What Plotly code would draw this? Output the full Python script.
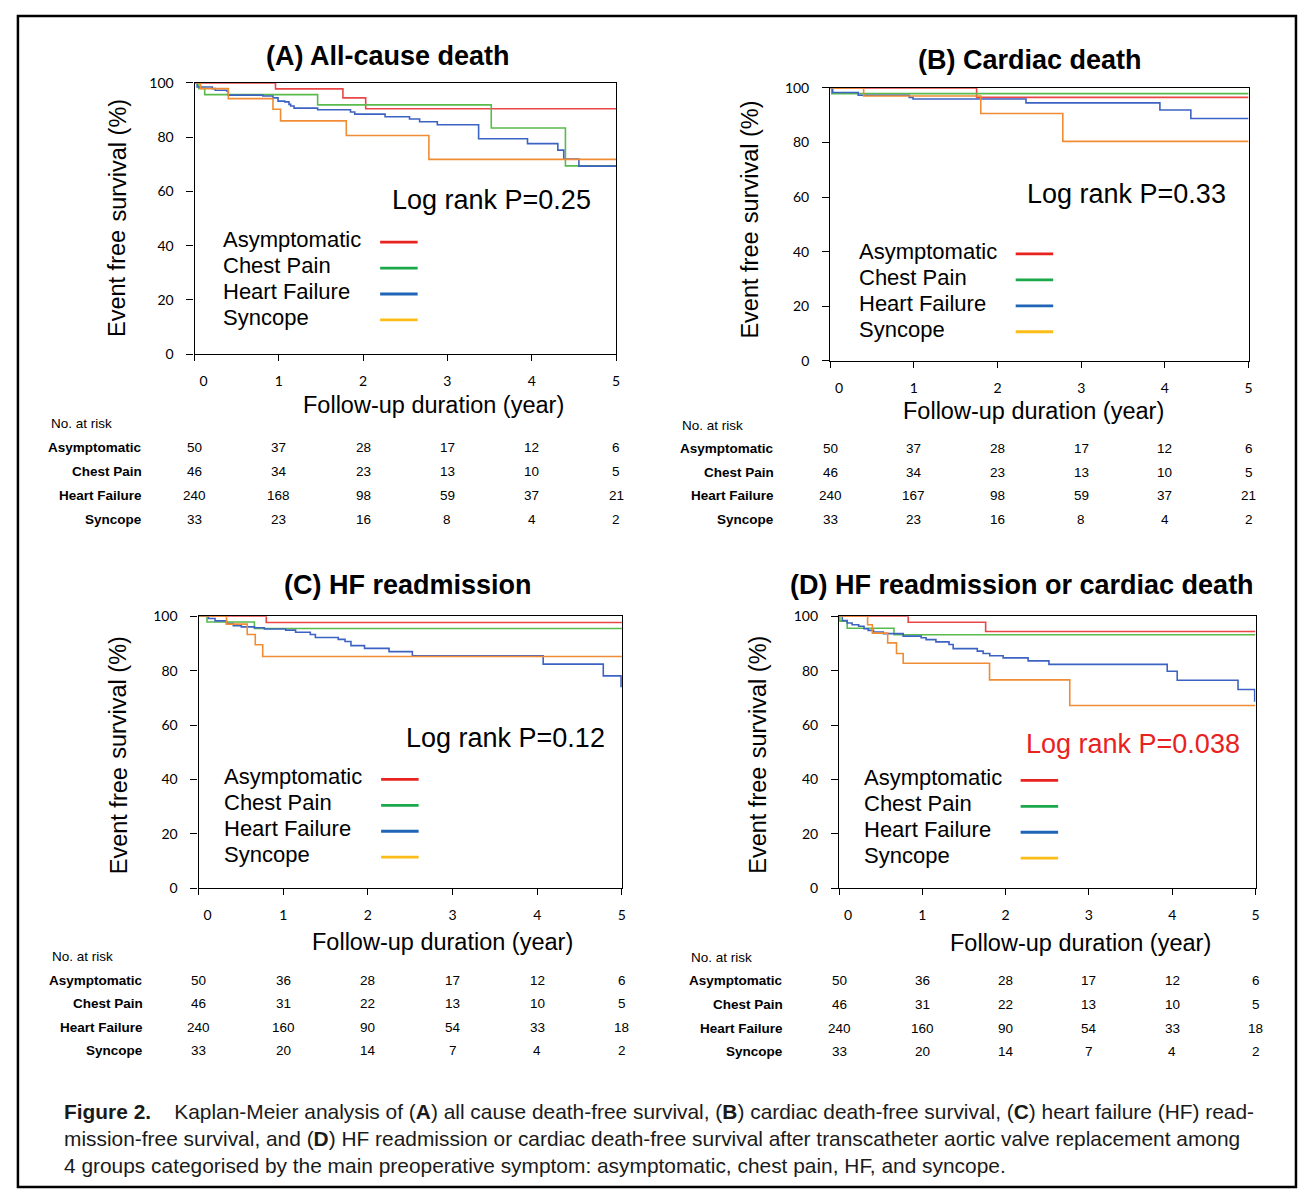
import plotly.graph_objects as go

W, H = 1298, 1197

GROUPS = ["Asymptomatic", "Chest Pain", "Heart Failure", "Syncope"]
LINE_COLORS = ["#ea4646", "#58bb4c", "#3d63c2", "#f08c34"]
KEY_COLORS = ["#e8221e", "#1aa84b", "#1f64b6", "#fbbd16"]
YEARS = [0, 1, 2, 3, 4, 5]
YTICKS = [0, 20, 40, 60, 80, 100]
FOLLOW_END = 5

# ---- Panel A: all-cause death ----
a_asym_t = [0, 0.96, 1.76, 2.03]
a_asym_s = [100, 97.8, 94.5, 90.5]
a_chest_t = [0, 0.05, 0.12, 1.46, 3.52, 4.40]
a_chest_s = [100, 98.0, 95.7, 91.9, 83.4, 69.4]
a_hf_t = [0, 0.03, 0.21, 0.245, 0.38, 0.40, 0.81, 0.93, 0.99, 1.07, 1.12, 1.14, 1.18,
          1.46, 1.85, 1.90, 2.26, 2.55, 2.67, 2.88, 3.37, 3.95, 4.31, 4.38, 4.56]
a_hf_s = [100, 98.5, 97.9, 97.3, 97.0, 95.5, 95.2, 94.5, 93.3, 93.0, 92.1, 91.5, 90.7,
          90.1, 89.3, 88.5, 87.5, 86.7, 85.7, 84.6, 79.4, 77.6, 75.2, 71.9, 69.3]
a_sync_t = [0, 0.07, 0.40, 0.93, 1.02, 1.80, 2.78]
a_sync_s = [100, 97.9, 94.2, 90.3, 86.0, 80.6, 71.8]
a_risk = [[50, 37, 28, 17, 12, 6], [46, 34, 23, 13, 10, 5],
          [240, 168, 98, 59, 37, 21], [33, 23, 16, 8, 4, 2]]

# ---- Panel B: cardiac death ----
b_asym_t = [0, 1.75]
b_asym_s = [100, 96.5]
b_chest_t = [0, 0.02]
b_chest_s = [100, 97.9]
b_hf_t = [0, 0.03, 0.335, 0.945, 0.99, 2.34, 3.94, 4.31]
b_hf_s = [100, 98.3, 97.3, 96.5, 95.9, 94.5, 91.9, 88.8]
b_sync_t = [0, 0.40, 1.80, 2.78]
b_sync_s = [100, 97.0, 90.6, 80.4]
b_risk = [[50, 37, 28, 17, 12, 6], [46, 34, 23, 13, 10, 5],
          [240, 167, 98, 59, 37, 21], [33, 23, 16, 8, 4, 2]]

# ---- Panel C: HF readmission ----
c_asym_t = [0, 0.80]
c_asym_s = [100, 97.7]
c_chest_t = [0, 0.10, 0.66]
c_chest_s = [100, 97.9, 95.5]
c_hf_t = [0, 0.117, 0.195, 0.33, 0.41, 0.505, 0.66, 0.777, 1.03, 1.146, 1.32, 1.38,
          1.65, 1.73, 1.80, 1.96, 2.25, 2.525, 4.07, 4.78, 4.99]
c_hf_s = [100, 99.2, 98.3, 97.3, 96.5, 96.1, 95.8, 95.3, 94.9, 94.1, 93.3, 92.2,
          91.5, 90.7, 89.2, 88.2, 87.0, 85.5, 82.4, 78.1, 74.2]
c_sync_t = [0, 0.33, 0.575, 0.67, 0.758]
c_sync_s = [100, 97.1, 93.3, 89.5, 85.2]
c_risk = [[50, 36, 28, 17, 12, 6], [46, 31, 22, 13, 10, 5],
          [240, 160, 90, 54, 33, 18], [33, 20, 14, 7, 4, 2]]

# ---- Panel D: HF readmission or cardiac death ----
d_asym_t = [0, 0.83, 1.76]
d_asym_s = [100, 97.8, 94.4]
d_chest_t = [0, 0.01, 0.098, 0.66]
d_chest_s = [100, 98.2, 95.6, 93.2]
d_hf_t = [0, 0.039, 0.098, 0.157, 0.236, 0.30, 0.35, 0.414, 0.532, 0.77, 0.986, 1.045,
          1.163, 1.32, 1.37, 1.66, 1.73, 1.81, 1.97, 2.27, 2.52, 3.94, 4.06, 4.79, 4.99]
d_hf_s = [100, 98.4, 97.5, 96.9, 96.3, 95.4, 94.8, 94.2, 93.6, 92.7, 92.1, 91.4,
          90.6, 89.6, 88.1, 87.2, 86.3, 85.5, 84.7, 83.6, 82.3, 79.8, 76.5, 73.1, 68.9]
d_sync_t = [0, 0.343, 0.40, 0.584, 0.69, 0.77, 1.807, 2.77]
d_sync_s = [100, 96.9, 93.8, 90.2, 86.3, 82.7, 76.6, 67.2]
d_risk = [[50, 36, 28, 17, 12, 6], [46, 31, 22, 13, 10, 5],
          [240, 160, 90, 54, 33, 18], [33, 20, 14, 7, 4, 2]]

TITLES = ["(A) All-cause death", "(B) Cardiac death", "(C) HF readmission",
          "(D) HF readmission or cardiac death"]
PVALUES = ["Log rank P=0.25", "Log rank P=0.33", "Log rank P=0.12", "Log rank P=0.038"]
PCOLORS = ["black", "black", "black", "#e8221e"]
YTITLE_PARTS = ["Event free", "survival (%)"]
XTITLE = "Follow-up duration (year)"

CAPTION = ("<b>Figure 2.</b>    Kaplan-Meier analysis of (<b>A</b>) all cause death-free survival, "
           "(<b>B</b>) cardiac death-free survival, (<b>C</b>) heart failure (HF) read-<br>"
           "mission-free survival, and (<b>D</b>) HF readmission or cardiac death-free survival "
           "after transcatheter aortic valve replacement among<br>"
           "4 groups categorised by the main preoperative symptom: asymptomatic, chest pain, HF, and syncope.")

curves = [
    [(a_asym_t, a_asym_s), (a_chest_t, a_chest_s), (a_hf_t, a_hf_s), (a_sync_t, a_sync_s)],
    [(b_asym_t, b_asym_s), (b_chest_t, b_chest_s), (b_hf_t, b_hf_s), (b_sync_t, b_sync_s)],
    [(c_asym_t, c_asym_s), (c_chest_t, c_chest_s), (c_hf_t, c_hf_s), (c_sync_t, c_sync_s)],
    [(d_asym_t, d_asym_s), (d_chest_t, d_chest_s), (d_hf_t, d_hf_s), (d_sync_t, d_sync_s)],
]
risks = [a_risk, b_risk, c_risk, d_risk]

PANELS = [
    dict(box=(184, 611, 75, 350), title=(380, 48), ytitle=(106, 212), xtitle=(426, 402),
         pval=(485, 194), legend=(211, 234, 372, 410), risk_label_x=133, risk_head=(36, 420),
         risk_y=[445, 469, 494, 518]),
    dict(box=(828, 1252, 80, 357), title=(1031, 52), ytitle=(747, 214), xtitle=(1034, 408),
         pval=(1128, 188), legend=(855, 246, 1016, 1054), risk_label_x=773, risk_head=(676, 422),
         risk_y=[446, 470, 494, 518]),
    dict(box=(188, 617, 616, 892), title=(400, 584), ytitle=(107, 757), xtitle=(435, 946),
         pval=(499, 740), legend=(212, 779, 373, 411), risk_label_x=134, risk_head=(37, 961),
         risk_y=[985, 1009, 1033, 1057]),
    dict(box=(837, 1259, 616, 892), title=(1022, 584), ytitle=(755, 757), xtitle=(1082, 947),
         pval=(1135, 746), legend=(860, 780, 1021, 1059), risk_label_x=782, risk_head=(685, 962),
         risk_y=[986, 1010, 1034, 1058]),
]

# Arial / Liberation Sans advance widths (em) for the y-title pieces
YT_SIZE = 23.5
YT_W1 = 4.558 * YT_SIZE   # "Event free"
YT_GAP = 0.278 * YT_SIZE  # space
YT_W2 = 5.222 * YT_SIZE   # "survival (%)"


def px(x):
    return x / W


def py(y):
    return 1 - y / H


fig = go.Figure()
annotations = []
shapes = []
SANS = "Liberation Sans, Arial, sans-serif"
TICKFONT = dict(family="Lato, Liberation Sans, sans-serif", size=14, color="black")
xticktext = ["\u00a0" * 5 + str(YEARS[0])] + [str(v) for v in YEARS[1:]]

for i, P in enumerate(PANELS):
    n = "" if i == 0 else str(i + 1)
    xa, ya = "x" + n, "y" + n
    x0, x1, yt, yb = P["box"]
    for g, (t, s) in enumerate(curves[i]):
        fig.add_trace(go.Scatter(
            x=list(t) + [FOLLOW_END], y=list(s) + [s[-1]], mode="lines",
            line=dict(color=LINE_COLORS[g], width=1.6, shape="hv"),
            xaxis=xa, yaxis=ya, showlegend=False, name=GROUPS[g]))
    common = dict(showgrid=False, zeroline=False, showline=True, linecolor="black",
                  linewidth=1.2, mirror=True, ticks="outside", tickcolor="black",
                  tickwidth=1.2, tickfont=TICKFONT)
    fig.layout["xaxis" + n] = dict(domain=[px(x0), px(x1)], anchor=ya, range=[0, 5],
                                   tickvals=YEARS, ticktext=xticktext, ticklen=6,
                                   ticklabelstandoff=8, **common)
    fig.layout["yaxis" + n] = dict(domain=[py(yb), py(yt)], anchor=xa, range=[0, 100],
                                   tickvals=YTICKS, ticklen=7, ticklabelstandoff=10, **common)
    annotations.append(dict(text="<b>%s</b>" % TITLES[i], x=px(P["title"][0]), y=py(P["title"][1]),
                            xref="paper", yref="paper", showarrow=False, xanchor="center",
                            yanchor="middle", font=dict(family=SANS, size=27, color="black")))
    # vertical axis title, set as two rotated pieces that read as one line
    cx, cy = P["ytitle"]
    total = YT_W1 + YT_GAP + YT_W2
    bottom_px = cy + total / 2
    ef_top = bottom_px - YT_W1
    sv_bottom = ef_top - YT_GAP
    annotations.append(dict(text=YTITLE_PARTS[0], x=px(cx), y=py(ef_top), xref="paper",
                            yref="paper", showarrow=False, textangle=-90, borderpad=0,
                            xanchor="center", yanchor="top",
                            font=dict(family=SANS, size=YT_SIZE, color="black")))
    annotations.append(dict(text=YTITLE_PARTS[1], x=px(cx), y=py(sv_bottom), xref="paper",
                            yref="paper", showarrow=False, textangle=-90, borderpad=0,
                            xanchor="center", yanchor="bottom",
                            font=dict(family=SANS, size=YT_SIZE, color="black")))
    annotations.append(dict(text=XTITLE, x=px(P["xtitle"][0]), y=py(P["xtitle"][1]),
                            xref="paper", yref="paper", showarrow=False, xanchor="center",
                            yanchor="middle", font=dict(family=SANS, size=23.5, color="black")))
    annotations.append(dict(text=PVALUES[i], x=px(P["pval"][0]), y=py(P["pval"][1]),
                            xref="paper", yref="paper", showarrow=False, xanchor="center",
                            yanchor="middle", font=dict(family=SANS, size=27, color=PCOLORS[i])))
    lx, ly, kx0, kx1 = P["legend"]
    for g, name in enumerate(GROUPS):
        yy = ly + g * 26.3
        annotations.append(dict(text=name, x=px(lx), y=py(yy), xref="paper", yref="paper",
                                showarrow=False, xanchor="left", yanchor="middle",
                                font=dict(family=SANS, size=22, color="black")))
        shapes.append(dict(type="line", xref="paper", yref="paper", x0=px(kx0), x1=px(kx1),
                           y0=py(yy + 2.5), y1=py(yy + 2.5),
                           line=dict(color=KEY_COLORS[g], width=2.8)))
    annotations.append(dict(text="No. at risk", x=px(P["risk_head"][0]), y=py(P["risk_head"][1]),
                            xref="paper", yref="paper", showarrow=False, xanchor="left",
                            yanchor="middle", font=dict(family=SANS, size=13.5, color="black")))
    for g, name in enumerate(GROUPS):
        ry = P["risk_y"][g]
        annotations.append(dict(text="<b>%s</b>" % name, x=px(P["risk_label_x"]), y=py(ry),
                                xref="paper", yref="paper", showarrow=False, xanchor="right",
                                yanchor="middle", font=dict(family=SANS, size=13.5, color="black")))
        for k, yr in enumerate(YEARS):
            annotations.append(dict(text=str(risks[i][g][k]), x=yr, y=py(ry), xref=xa,
                                    yref="paper", showarrow=False, xanchor="center",
                                    yanchor="middle",
                                    font=dict(family=SANS, size=13.5, color="black")))

annotations.append(dict(text=CAPTION, x=px(50), y=py(1105), xref="paper", yref="paper",
                        showarrow=False, xanchor="left", yanchor="top", align="left",
                        font=dict(family=SANS, size=20.9, color="#1a1a1a")))

# outer frame of the figure panel
shapes.append(dict(type="rect", xref="paper", yref="paper", x0=px(5), x1=px(1300),
                   y0=py(1195), y1=py(7), line=dict(color="black", width=2.5)))

fig.update_layout(width=W, height=H, margin=dict(l=0, r=0, t=0, b=0),
                  paper_bgcolor="white", plot_bgcolor="white",
                  annotations=annotations, shapes=shapes)
fig.write_html("out.html", config={"displayModeBar": False},
               post_script="document.documentElement.style.margin='0';"
                           "document.documentElement.style.overflow='hidden';"
                           "document.body.style.margin='0';document.body.style.overflow='hidden';")
